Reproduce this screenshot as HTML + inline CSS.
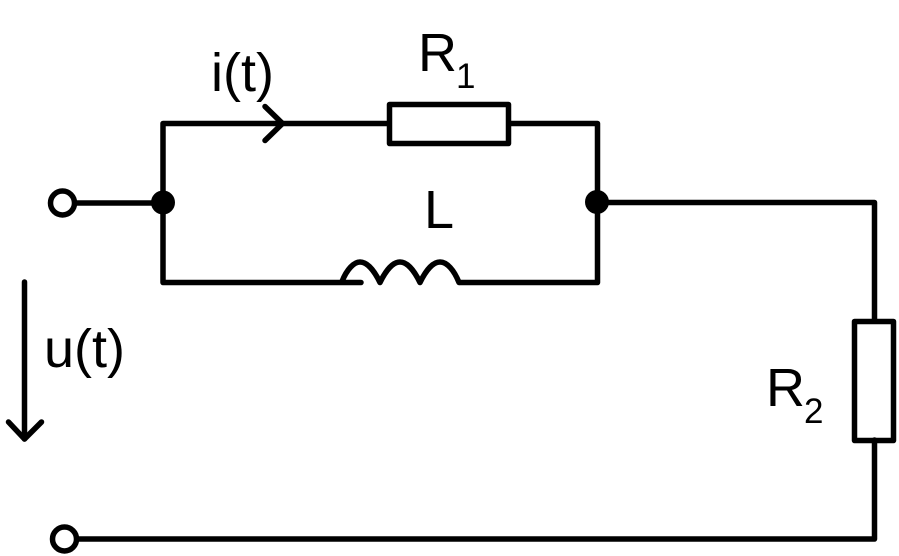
<!DOCTYPE html>
<html>
<head>
<meta charset="utf-8">
<style>
html,body{margin:0;padding:0;background:#fff;width:899px;height:556px;overflow:hidden}
svg{display:block}
text{font-family:"Liberation Sans",sans-serif;fill:#000}
</style>
</head>
<body>
<svg width="899" height="556" viewBox="0 0 899 556" xmlns="http://www.w3.org/2000/svg">
<g fill="none" stroke="#000" stroke-width="5.5" stroke-linecap="round" stroke-linejoin="round">
<path d="M389 123.500H163V282.500H361"/>
<path d="M509 123.500H597.500V282.500H460"/>
<path d="M75 203H163"/>
<path d="M597 202.500H874.500V321"/>
<path d="M874.500 440V539H77"/>
<rect x="389.500" y="104.500" width="119" height="39"/>
<rect x="854.500" y="321.500" width="39" height="119"/>
<path d="M265 106.500L282.500 123.500L265 140.500"/>
<path d="M24.500 282V439"/>
<path d="M8.500 422L24.500 439L41.500 422"/>
<path d="M342 281.500C347 269 354 262 360 262C367 262 374 270 380 282.500C386 270 393 262 400 262C407 262 414 270 420 282.500C426 270 433 262 440 262C447 262 454 270 459 282.500"/>
<circle cx="62.500" cy="203" r="12" fill="#fff"/>
<circle cx="64.500" cy="539" r="12" fill="#fff"/>
</g>
<circle cx="163" cy="202.500" r="12" fill="#000"/>
<circle cx="597" cy="202" r="12" fill="#000"/>
<text x="211" y="91" font-size="54">i(t)</text>
<text x="418" y="71" font-size="54">R</text>
<text x="456" y="88" font-size="35">1</text>
<text x="424" y="228" font-size="54">L</text>
<text x="44" y="367" font-size="54">u(t)</text>
<text x="766" y="406" font-size="54">R</text>
<text x="804" y="423" font-size="35">2</text>
</svg>
</body>
</html>
